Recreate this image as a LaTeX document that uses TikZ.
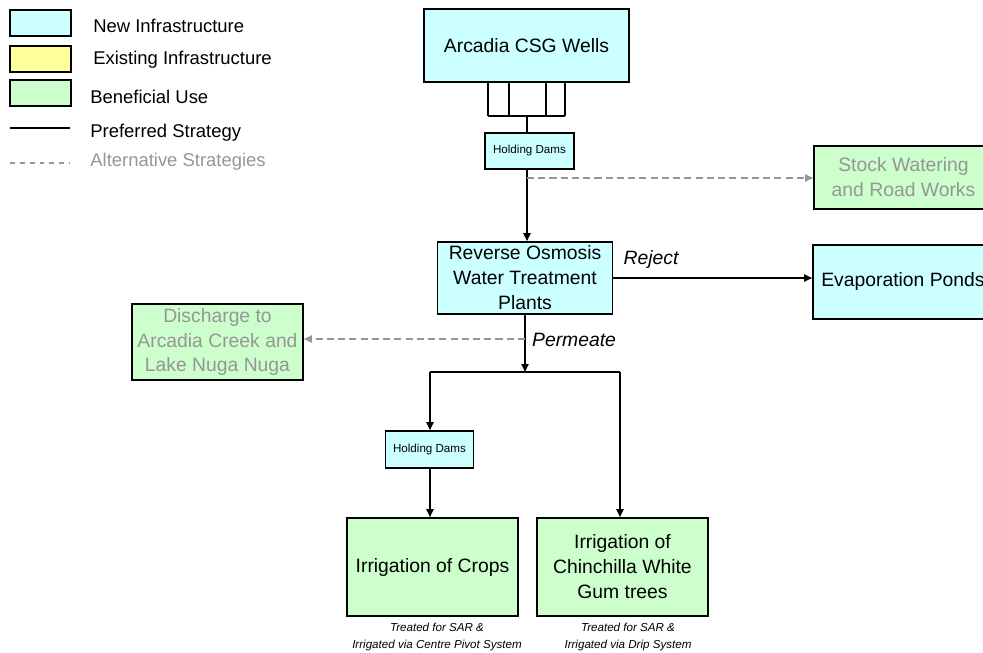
\documentclass[tikz,border=0pt]{standalone}
\usepackage{fontspec}
\setmainfont{Liberation Sans}
\usetikzlibrary{arrows.meta}
\definecolor{newinf}{HTML}{CCFFFF}
\definecolor{oldinf}{HTML}{FFFF99}
\definecolor{beneuse}{HTML}{CCFFCC}
\definecolor{altgray}{RGB}{150,150,150}
\begin{document}
\begin{tikzpicture}[x = 0.02cm, y = -0.02cm,
        box/.style = {draw = black, line width = 0.9pt, align = center, inner sep = 2pt, font = \fontsize{11}{14.2}\selectfont},
        smallbox/.style = {box, font = \fontsize{6.6}{8}\selectfont},
        keybox/.style = {draw = black, line width = 0.8pt, minimum width = 1.22cm, minimum height = 0.52cm},
        keytext/.style = {anchor = west, inner sep = 0pt, font = \fontsize{10.5}{12}\selectfont},
        pref/.style = {line width = 1pt, -{Triangle[length = 1.6mm, width = 1.4mm]}},
        alt/.style = {altgray, line width = 1pt, dash pattern = on 4pt off 2.4pt, -{Triangle[length = 1.6mm, width = 1.4mm]}},
        flowlabel/.style = {font = \fontsize{11}{13}\selectfont\itshape},
        note/.style = {font = \fontsize{6.6}{10}\selectfont\itshape, align = center}]
    \useasboundingbox (0, 0) rectangle (983, 652);
    \clip (0, 0) rectangle (983, 652);
    \node[keybox, fill = newinf] (keynew) at (40.5, 23) {};
    \node[keybox, fill = oldinf] (keyold) at (40.5, 59) {};
    \node[keybox, fill = beneuse] (keyben) at (40.5, 93) {};
    \node[keytext] (keynewtxt) at (93, 26) {New Infrastructure};
    \node[keytext] (keyoldtxt) at (93, 60) {Existing Infrastructure};
    \node[keytext] (keybentxt) at (90, 97) {Beneficial Use};
    \coordinate (keyprefL) at (10, 128);
    \coordinate (keyprefR) at (70, 128);
    \coordinate (keyaltL) at (10, 163);
    \coordinate (keyaltR) at (70, 163);
    \draw[line width = 1pt] (keyprefL) -- (keyprefR);
    \draw[altgray, line width = 1pt, dash pattern = on 2.8pt off 2.8pt] (keyaltL) -- (keyaltR);
    \node[keytext] (keypreftxt) at (90, 133) {Preferred Strategy};
    \node[keytext, text = altgray] (keyalttxt) at (90, 162) {Alternative Strategies};
    \node[box, fill = newinf, minimum width = 4.1cm, minimum height = 1.46cm] (wells) at (526.5, 45.5) {Arcadia CSG Wells};
    \node[smallbox, fill = newinf, minimum width = 1.78cm, minimum height = 0.72cm] (hold1) at (529.5, 151) {Holding Dams};
    \node[box, fill = beneuse, text = altgray, minimum width = 3.58cm, minimum height = 1.26cm] (stock) at (903.5, 177.5) {Stock Watering\\and Road Works};
    \node[box, fill = newinf, minimum width = 3.5cm, minimum height = 1.44cm] (ro) at (525, 278) {Reverse Osmosis\\Water Treatment\\Plants};
    \node[box, fill = newinf, minimum width = 3.6cm, minimum height = 1.48cm] (evap) at (903, 282) {Evaporation Ponds};
    \node[box, fill = beneuse, text = altgray, minimum width = 3.42cm, minimum height = 1.52cm] (discharge) at (217.5, 342) {Discharge to\\Arcadia Creek and\\Lake Nuga Nuga};
    \node[smallbox, fill = newinf, minimum width = 1.76cm, minimum height = 0.74cm] (hold2) at (429.5, 449.5) {Holding Dams};
    \node[box, fill = beneuse, minimum width = 3.42cm, minimum height = 1.96cm] (crops) at (432.5, 567) {Irrigation of Crops};
    \node[box, fill = beneuse, minimum width = 3.42cm, minimum height = 1.96cm] (chin) at (622.5, 567) {Irrigation of\\Chinchilla White\\Gum trees};
    \node[note] (cropsnote) at (437, 637) {Treated for SAR \&\\Irrigated via Centre Pivot System};
    \node[note] (chinnote) at (628, 637) {Treated for SAR \&\\Irrigated via Drip System};
    \foreach \k/\xx in {1/488, 2/509, 3/546, 4/565}{
        \coordinate (m\k) at (\xx, 116);
        \draw[line width = 1pt] (m\k) -- (m\k |- wells.south);
    }
    \coordinate (mC) at (527, 116);
    \draw[line width = 1pt] (m1) -- (m4);
    \draw[line width = 1pt] (mC) -- (mC |- hold1.north);
    \draw[pref] (mC |- hold1.south) -- (mC |- ro.north);
    \coordinate (split) at (527, 178);
    \draw[alt] (split) -- (split -| stock.west);
    \draw[pref] (ro.east) -- (ro.east -| evap.west);
    \node[flowlabel] (rejlbl) at (651, 260) {Reject};
    \coordinate (br) at (525, 372);
    \coordinate (brL) at (430, 372);
    \coordinate (brR) at (620, 372);
    \coordinate (perm) at (525, 339);
    \draw[pref] (ro.south -| br) -- (br);
    \draw[alt] (perm) -- (perm -| discharge.east);
    \node[flowlabel] (permlbl) at (574, 340) {Permeate};
    \draw[line width = 1pt] (brL) -- (brR);
    \draw[pref] (brL) -- (brL |- hold2.north);
    \draw[pref] (brL |- hold2.south) -- (brL |- crops.north);
    \draw[pref] (brR) -- (brR |- chin.north);
\end{tikzpicture}
\end{document}
